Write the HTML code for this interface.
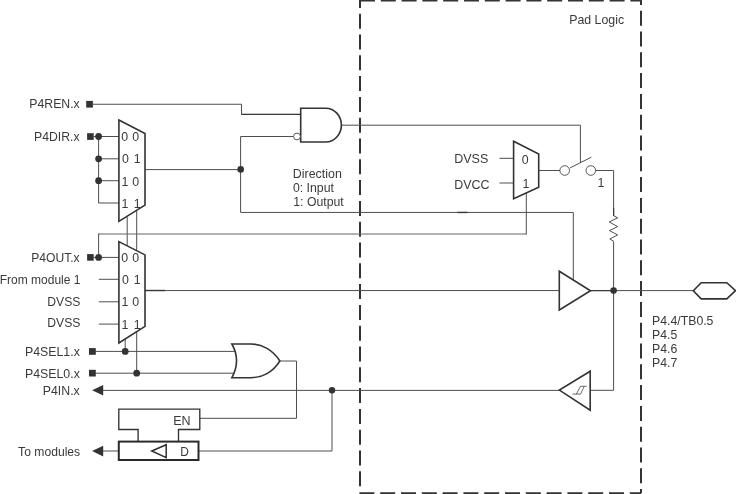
<!DOCTYPE html>
<html>
<head>
<meta charset="utf-8">
<title>Pad Logic</title>
<style>
html,body{margin:0;padding:0;background:#fff;}
body{width:736px;height:494px;overflow:hidden;}
svg{display:block;filter:grayscale(1);}
text{font-family:"Liberation Sans",Arial,sans-serif;font-size:12px;fill:#3a3a3a;}
.w{fill:none;stroke:#4e4e4e;stroke-width:1;}
.s{fill:#fff;stroke:#333;stroke-width:1.6;stroke-linejoin:miter;}
.d{fill:#333;stroke:none;}
</style>
</head>
<body>
<svg width="736" height="494" viewBox="0 0 736 494">
<rect x="0" y="0" width="736" height="494" fill="#fff"/>

<!-- dashed pad logic box -->
<g fill="none" stroke="#333" stroke-width="2">
<path d="M360,0.5 H641 V493.2" stroke-dasharray="15 5.8"/>
<path d="M359.4,493.3 H641" stroke-dasharray="15 5.8"/>
<path d="M360,-7.1 V487" stroke-dasharray="15 5.8"/>
</g>

<!-- wires -->
<g class="w">
<path d="M93,104.25 H241.5 V114.45 H300.7"/>
<path d="M241.5,114.4 H300.7" stroke="#3a3a3a" stroke-width="1.3"/>
<path d="M93.5,136.5 H119"/>
<path d="M98.6,136.5 V203 H119"/>
<path d="M98.6,158.8 H119"/>
<path d="M98.6,180.7 H119"/>
<path d="M145,169.6 H240.7"/>
<path d="M293.6,136.5 H240.6 V212.45 H573.3 V281"/>
<path d="M457.5,212.45 H467.5" stroke="#3a3a3a" stroke-width="1.4"/>
<path d="M342,125.2 H580.4 V162.6"/>
<path d="M127.2,217 V245.5"/>
<path d="M136.7,211 V250"/>
<path d="M93.5,257.4 H119"/>
<path d="M98.6,234 H526.3" stroke="#666"/>
<path d="M98.6,257.4 V233.5 M526.3,234.5 V193"/>
<path d="M98.8,279.3 H119"/>
<path d="M98.8,301.8 H119"/>
<path d="M98.8,324.1 H119"/>
<path d="M145,290.55 H559"/>
<path d="M145,290.5 H165" stroke="#3a3a3a" stroke-width="1.4"/>
<path d="M125.2,339 V351.4"/>
<path d="M136.7,331.5 V373.2"/>
<path d="M95.5,351.4 H235"/>
<path d="M95.5,373.2 H235"/>
<path d="M279.8,361 H296.5 V418.3 H199.8"/>
<path d="M103,390.4 H559.4"/>
<path d="M590.2,390.3 H613.6 V241.2"/>
<path d="M103,451 H118.8"/>
<path d="M198.5,451 H332 V390.2"/>
<path d="M499.5,158.3 H513.8"/>
<path d="M499.5,183 H513.8"/>
<path d="M538.8,170.5 H560"/>
<path d="M570.1,167.85 L591.4,157.2"/>
<path d="M595.6,170.5 H613.6 V215.7 L617.7,217.8 L609.2,222 L617.7,226.6 L609.4,230.6 L617.7,234.9 L609.8,239 L613.6,241.2"/>
<path d="M590.5,290.6 H693.3"/>
<path d="M590.5,290.6 H613.6" stroke="#3a3a3a" stroke-width="1.25"/>
<path d="M613.6,207.8 V216" stroke="#3a3a3a" stroke-width="1.25"/>
</g>

<!-- terminals: squares, dots, arrows -->
<g class="d">
<rect x="86.2" y="100.9" width="6.7" height="6.7"/>
<rect x="87.1" y="133.2" width="6.6" height="6.7"/>
<rect x="87.1" y="254.1" width="6.6" height="6.6"/>
<rect x="89" y="348.1" width="6.8" height="6.7"/>
<rect x="89" y="369.8" width="6.8" height="6.7"/>
<circle cx="98.6" cy="136.5" r="3.4"/>
<circle cx="98.6" cy="158.8" r="3.4"/>
<circle cx="98.6" cy="180.7" r="3.4"/>
<circle cx="98.6" cy="257.4" r="3.4"/>
<circle cx="240.7" cy="169.4" r="3.3"/>
<circle cx="125.2" cy="351.4" r="3.4"/>
<circle cx="136.7" cy="373.2" r="3.4"/>
<circle cx="332" cy="390.25" r="3.25"/>
<circle cx="613.6" cy="290.6" r="3.3"/>
<path d="M92.1,390.3 L103.2,385 V395.6 Z"/>
<path d="M92.1,451.1 L103.2,445.8 V456.4 Z"/>
</g>

<!-- shapes -->
<g class="s">
<path d="M118.9,120 L145,133.5 V205.1 L118.9,221.4 Z"/>
<path d="M118.9,241.6 L145,254.9 V326.3 L118.9,343 Z"/>
<path d="M300.7,108.2 H325.8 A15.6,16.9 0 0 1 325.8,142 H300.7 Z"/>
<path d="M231.9,344 H250.7 C262,344 273,350 279.85,361 C273,372 262,377.7 250.7,377.7 H231.9 C238.3,366 238.3,355.5 231.9,344 Z"/>
<path d="M513.6,141.3 L538.7,154 V187.3 L513.6,198.7 Z"/>
<path d="M559.3,271.3 L590.5,290.7 L559.3,310 Z"/>
<path d="M590.2,371.3 V410.2 L559.4,390.1 Z"/>
<path d="M693.3,290.7 L701.2,282.7 H726.8 L735.5,290.7 L726.8,298.9 H701.2 Z"/>
</g>
<g fill="#fff" stroke="#444" stroke-width="0.9">
<circle cx="297" cy="136.5" r="3.4"/>
<circle cx="564.7" cy="170.5" r="4.8"/>
<circle cx="590.8" cy="170.5" r="4.8"/>
</g>
<!-- schmitt symbol -->
<path d="M572.4,394.1 H580.6 L584.2,386.3 H586.7 M576.4,394.1 L580.4,386.3 H584.2" fill="none" stroke="#3a3a3a" stroke-width="0.75"/>

<!-- latch -->
<path d="M138.1,441.6 V429.5 H118.8 V409.15 H199.8 V429.5 H178.5 V441.6" fill="none" stroke="#333" stroke-width="1.35"/>
<rect x="118.8" y="441.6" width="79.7" height="18.4" fill="#fff" stroke="#2a2a2a" stroke-width="2"/>
<path d="M151.8,451 L166.2,444.7 V457.6 Z" fill="none" stroke="#2e2e2e" stroke-width="1.5"/>
<!-- labels -->
<text transform="translate(569.17,23.5) scale(1.0309,1)">Pad Logic</text>
<text transform="translate(173.2,424.7) scale(1.0,1)" style="font-size:12.5px">EN</text>
<text transform="translate(180.3,455.7) scale(0.96,1)" style="font-size:12.5px">D</text>
<text transform="translate(29.28,107.8) scale(1.0233,1)">P4REN.x</text>
<text transform="translate(34.08,140.8) scale(1.0193,1)">P4DIR.x</text>
<text transform="translate(31.24,261.7) scale(1.0089,1)">P4OUT.x</text>
<text transform="translate(-0.3,283.7) scale(1.0013,1)">From module 1</text>
<text transform="translate(47.28,306.2) scale(1.016,1)">DVSS</text>
<text transform="translate(47.28,326.7) scale(1.016,1)">DVSS</text>
<text transform="translate(24.97,355.9) scale(1.0293,1)">P4SEL1.x</text>
<text transform="translate(24.97,377.7) scale(1.0293,1)">P4SEL0.x</text>
<text transform="translate(42.77,394.9) scale(1.0279,1)">P4IN.x</text>
<text transform="translate(18.1,455.8) scale(1.013,1)">To modules</text>
<text transform="translate(454.16,162.8) scale(1.0448,1)">DVSS</text>
<text transform="translate(454.16,188.7) scale(1.039,1)">DVCC</text>
<text transform="translate(292.81,177.6) scale(1.0356,1)">Direction</text>
<text transform="translate(292.98,191.5) scale(1.0246,1)">0: Input</text>
<text transform="translate(293.28,205.5) scale(1.023,1)">1: Output</text>
<text transform="translate(652.08,324.6) scale(1.0233,1)">P4.4/TB0.5</text>
<text transform="translate(652.04,338.6) scale(1.0193,1)">P4.5</text>
<text transform="translate(652.04,352.6) scale(1.0244,1)">P4.6</text>
<text transform="translate(652.04,366.7) scale(1.0235,1)">P4.7</text>
<text transform="translate(121.2,140.8) scale(1.033,1)">0</text>
<text transform="translate(132.2,140.8) scale(1.033,1)">0</text>
<text transform="translate(121.9,163) scale(1.033,1)">0</text>
<text transform="translate(133.7,163) scale(1.033,1)">1</text>
<text transform="translate(121.5,185.7) scale(1.033,1)">1</text>
<text transform="translate(132.3,185.7) scale(1.033,1)">0</text>
<text transform="translate(121.5,207.6) scale(1.033,1)">1</text>
<text transform="translate(133.7,207.6) scale(1.033,1)">1</text>
<text transform="translate(121.2,261.8) scale(1.033,1)">0</text>
<text transform="translate(132.2,261.8) scale(1.033,1)">0</text>
<text transform="translate(121.9,283.8) scale(1.033,1)">0</text>
<text transform="translate(133.7,283.8) scale(1.033,1)">1</text>
<text transform="translate(121.5,306.2) scale(1.033,1)">1</text>
<text transform="translate(132.3,306.2) scale(1.033,1)">0</text>
<text transform="translate(121.5,328.5) scale(1.033,1)">1</text>
<text transform="translate(133.7,328.5) scale(1.033,1)">1</text>
<text transform="translate(521.8,164) scale(1.033,1)">0</text>
<text transform="translate(522.6,187.8) scale(1.033,1)">1</text>
<text transform="translate(597.6,186.7) scale(1.033,1)">1</text>
</svg>
</body>
</html>
